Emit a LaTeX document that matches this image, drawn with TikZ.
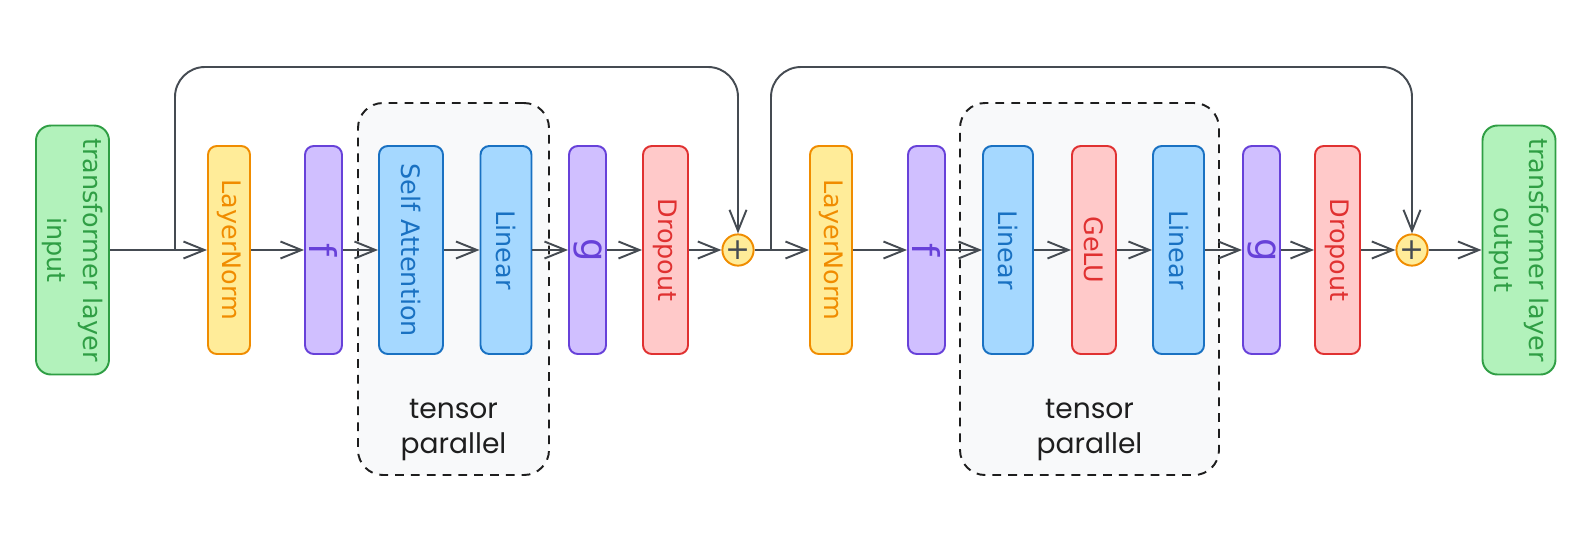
\documentclass[tikz,border=0pt]{standalone}
\usepackage{fontspec}
\setmainfont{DejaVu Sans}
\newfontfamily\tpfont{Poppins}
\usetikzlibrary{arrows.meta, positioning}

% palette
\definecolor{grnfill}{HTML}{B2F2BB}
\definecolor{grnline}{HTML}{2F9E44}
\definecolor{ylwfill}{HTML}{FFEC99}
\definecolor{ylwline}{HTML}{F08C00}
\definecolor{vltfill}{HTML}{D0BFFF}
\definecolor{vltline}{HTML}{6741D9}
\definecolor{blufill}{HTML}{A5D8FF}
\definecolor{bluline}{HTML}{1971C2}
\definecolor{redfill}{HTML}{FFC9C9}
\definecolor{redline}{HTML}{E03131}
\definecolor{tpfill}{HTML}{F8F9FA}
\definecolor{arrgray}{HTML}{454B52}
\definecolor{inkblack}{HTML}{1E1E1E}

\begin{document}
\begin{tikzpicture}[
  blk/.style={draw, rounded corners=5pt, line width=1.1pt, rotate=-90,
    minimum width=4.16cm, inner sep=2pt, font=\fontsize{14.5}{20}\selectfont},
  lnorm/.style={blk, fill=ylwfill, draw=ylwline, text=ylwline, minimum height=0.84cm},
  comm/.style={blk, fill=vltfill, draw=vltline, text=vltline, minimum height=0.74cm,
    inner sep=0pt, font=\fontsize{21}{21}\selectfont},
  linr/.style={blk, fill=blufill, draw=bluline, text=bluline, minimum height=1.02cm},
  drp/.style={blk, fill=redfill, draw=redline, text=redline, minimum height=0.9cm},
  io/.style={blk, fill=grnfill, draw=grnline, text=grnline, align=center,
    minimum width=4.98cm, minimum height=1.46cm, rounded corners=0.3cm},
  addop/.style={circle, draw=ylwline, fill=ylwfill, text=arrgray, line width=1.1pt,
    minimum size=0.6cm, inner sep=0pt, font=\fontsize{17}{17}\selectfont},
  conn/.style={draw=arrgray, line width=1.1pt, -{Straight Barb[length=0.42cm, width=0.34cm]}},
  tpbox/.style={draw=inkblack, fill=tpfill, line width=1.1pt, dash pattern=on 5pt off 4pt,
    rounded corners=0.5cm},
  tplabel/.style={text=inkblack, align=center, font=\tpfont\fontsize{16}{19.5}\selectfont}
]
\useasboundingbox (0,5) rectangle (31.72,-5.84);

% tensor parallel regions (drawn first, behind the blocks)
\node[tpbox, minimum width=3.82cm, minimum height=7.44cm] (tp1) at (9.07,-0.78) {};
\node[tpbox, minimum width=5.18cm, minimum height=7.44cm] (tp2) at (21.79,-0.78) {};
\node[tplabel] (tp1lbl) at (9.07,-3.6) {tensor\\parallel};
\node[tplabel] (tp2lbl) at (21.79,-3.6) {tensor\\parallel};

% attention half
\node[io] (inp) at (1.45,0) {transformer layer\\input};
\node[lnorm] (ln1) at (4.58,0) {LayerNorm};
\node[comm] (f1) at (6.47,0) {f};
\node[linr, minimum height=1.28cm] (attn) at (8.22,0) {Self Attention};
\node[linr] (lin1) at (10.12,0) {Linear};
\node[comm] (g1) at (11.75,0) {g};
\node[drp] (drop1) at (13.31,0) {Dropout};
\node[addop] (add1) at (14.76,0) {+};

% mlp half
\node[lnorm] (ln2) at (16.62,0) {LayerNorm};
\node[comm] (f2) at (18.53,0) {f};
\node[linr, minimum height=1.0cm] (lin2) at (20.16,0) {Linear};
\node[drp, minimum height=0.88cm] (gelu) at (21.88,0) {GeLU};
\node[linr] (lin3) at (23.57,0) {Linear};
\node[comm] (g2) at (25.23,0) {g};
\node[drp] (drop2) at (26.75,0) {Dropout};
\node[addop] (add2) at (28.24,0) {+};
\node[io] (outp) at (30.38,0) {transformer layer\\output};

% main path
\draw[conn] (inp) -- (ln1);
\draw[conn] (ln1) -- (f1);
\draw[conn] (f1) -- (attn);
\draw[conn] (attn) -- (lin1);
\draw[conn] (lin1) -- (g1);
\draw[conn] (g1) -- (drop1);
\draw[conn] (drop1) -- (add1);
\draw[conn] (add1) -- (ln2);
\draw[conn] (ln2) -- (f2);
\draw[conn] (f2) -- (lin2);
\draw[conn] (lin2) -- (gelu);
\draw[conn] (gelu) -- (lin3);
\draw[conn] (lin3) -- (g2);
\draw[conn] (g2) -- (drop2);
\draw[conn] (drop2) -- (add2);
\draw[conn] (add2) -- (outp);

% residual connections over the top
\coordinate (sk1) at (3.5,0);
\coordinate (sk2) at (15.42,0);
\path (add1.center) ++(0,3.66) coordinate (top1);
\path (add2.center) ++(0,3.66) coordinate (top2);
\draw[conn, rounded corners=0.6cm] (sk1) |- (top1) -- (add1);
\draw[conn, rounded corners=0.6cm] (sk2) |- (top2) -- (add2);

\end{tikzpicture}
\end{document}
